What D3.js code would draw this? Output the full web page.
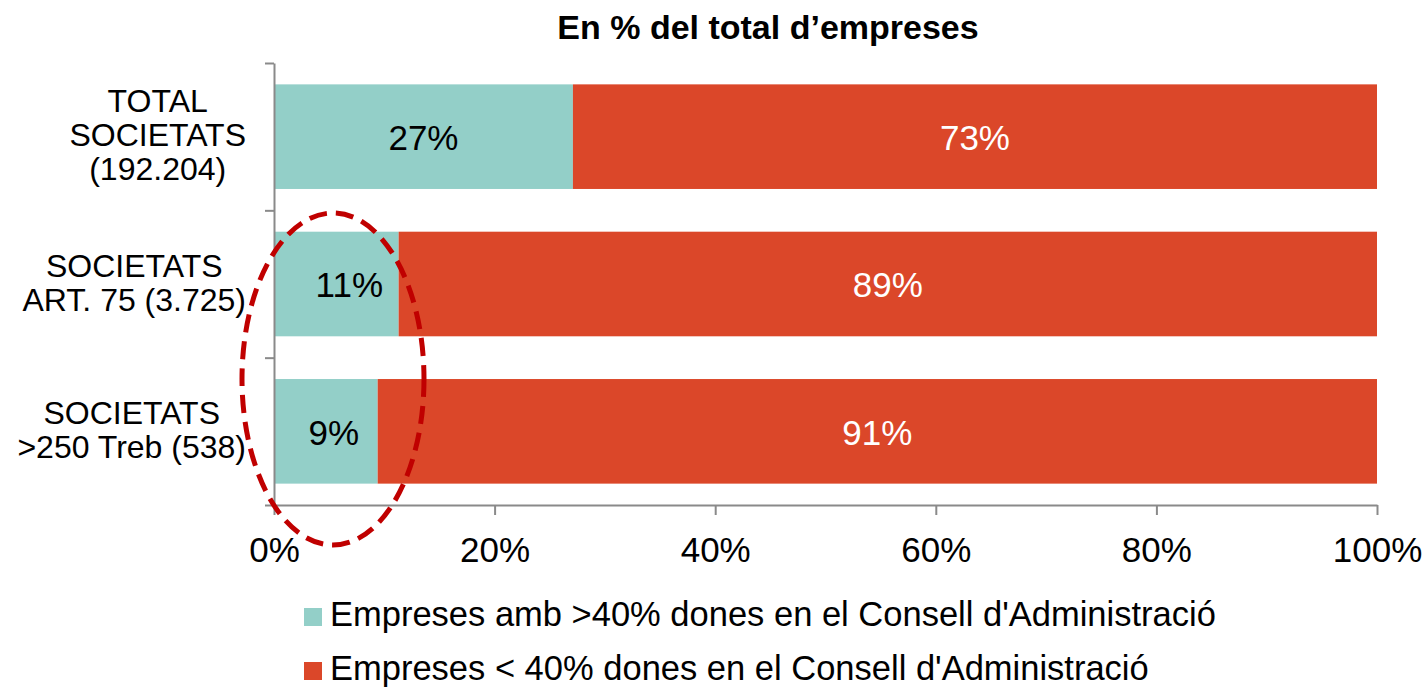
<!DOCTYPE html>
<html>
<head>
<meta charset="utf-8">
<script src="https://cdn.jsdelivr.net/npm/d3@7"></script>
<style>
  body { margin: 0; background: #fff; }
  svg { display: block; font-family: "Liberation Sans", Arial, sans-serif; }
</style>
</head>
<body>
<svg id="chart" width="1428" height="687"></svg>
<script>
// data
var categories = ["TOTAL\nSOCIETATS\n(192.204)", "SOCIETATS\nART. 75 (3.725)", "SOCIETATS\n>250 Treb (538)"];
var over40 = [27.1, 11.3, 9.4];
var under40 = [72.9, 88.7, 90.6];
var seriesNames = ["Empreses amb >40% dones en el Consell d'Administració",
                   "Empreses < 40% dones en el Consell d'Administració"];
var xTicks = [0, 20, 40, 60, 80, 100];
var colors = ["#93cfc8", "#db4729"];

var svg = d3.select("#chart");

var x = d3.scaleLinear().domain([0, 100]).range([274, 1377]);
var y = d3.scaleBand().domain(categories).range([63, 505])
    .paddingInner(0.29).paddingOuter(0.145);
var yEdge = d3.scaleLinear().domain([0, categories.length]).range([63, 505]);

// title
svg.append("text")
    .attr("x", 768).attr("y", 39)
    .attr("text-anchor", "middle")
    .style("font-size", "34px").style("font-weight", "bold")
    .text("En % del total d\u2019empreses");

// bars
var rows = categories.map(function(c, i) {
  return {cat: c, a: over40[i], b: under40[i]};
});

// the small teal labels sit a bit right of centre in the original
var nudge = [0, 13, 8];

var g = svg.append("g");
rows.forEach(function(d, i) {
  g.append("rect")
      .attr("x", x(0)).attr("y", y(d.cat))
      .attr("width", x(d.a) - x(0)).attr("height", y.bandwidth())
      .attr("fill", colors[0]);
  g.append("rect")
      .attr("x", x(d.a)).attr("y", y(d.cat))
      .attr("width", x(d.a + d.b) - x(d.a)).attr("height", y.bandwidth())
      .attr("fill", colors[1]);
  var cy = y(d.cat) + y.bandwidth() / 2;
  g.append("text")
      .attr("x", (x(0) + x(d.a)) / 2 + nudge[i]).attr("y", cy).attr("dy", "0.385em")
      .attr("text-anchor", "middle").style("font-size", "35px").attr("fill", "#000")
      .text(Math.round(d.a) + "%");
  g.append("text")
      .attr("x", (x(d.a) + x(d.a + d.b)) / 2).attr("y", cy).attr("dy", "0.385em")
      .attr("text-anchor", "middle").style("font-size", "35px").attr("fill", "#fff")
      .text(Math.round(d.b) + "%");
});

// axes
var axisColor = "#8a8a8a";
var xAxis = svg.append("g")
    .attr("transform", "translate(0,505)")
    .call(d3.axisBottom(x).tickValues(xTicks).tickSize(10).tickSizeOuter(0)
      .tickFormat(function(v) { return v + "%"; }));
xAxis.selectAll("text").attr("y", 57).attr("dy", null)
    .style("font-size", "35px").attr("fill", "#000");

var yAxis = svg.append("g")
    .attr("transform", "translate(274,0)")
    .call(d3.axisLeft(yEdge).tickValues(d3.range(categories.length + 1))
      .tickSize(9).tickSizeOuter(0).tickFormat(""));

[xAxis, yAxis].forEach(function(a) {
  a.select(".domain").attr("stroke", axisColor).attr("stroke-width", 2);
  a.selectAll(".tick line").attr("stroke", axisColor).attr("stroke-width", 2);
});

// category labels, centred block with right edge near the axis
rows.forEach(function(d) {
  var lines = d.cat.split("\n");
  var cy = y(d.cat) + y.bandwidth() / 2 - 2;
  var t = svg.append("text").style("font-size", "32px").attr("text-anchor", "middle");
  var spans = lines.map(function(l, i) {
    return t.append("tspan")
        .attr("y", cy + (i - (lines.length - 1) / 2) * 34 + 11.5)
        .text(l);
  });
  var maxw = d3.max(spans, function(s) { return s.node().getComputedTextLength(); });
  spans.forEach(function(s) { s.attr("x", 246 - maxw / 2); });
});

// dashed highlight ellipse
svg.append("ellipse")
    .attr("cx", 333).attr("cy", 379).attr("rx", 91).attr("ry", 166)
    .attr("fill", "none").attr("stroke", "#c00000")
    .attr("stroke-width", 5).attr("stroke-dasharray", "18 9");

// legend
var legend = svg.append("g");
seriesNames.forEach(function(name, i) {
  var ly = 608 + i * 54;
  legend.append("rect")
      .attr("x", 304).attr("y", ly).attr("width", 18).attr("height", 18)
      .attr("fill", colors[i]);
  legend.append("text")
      .attr("x", 330).attr("y", ly + 18)
      .style("font-size", "34.5px")
      .text(name);
});
</script>
</body>
</html>
